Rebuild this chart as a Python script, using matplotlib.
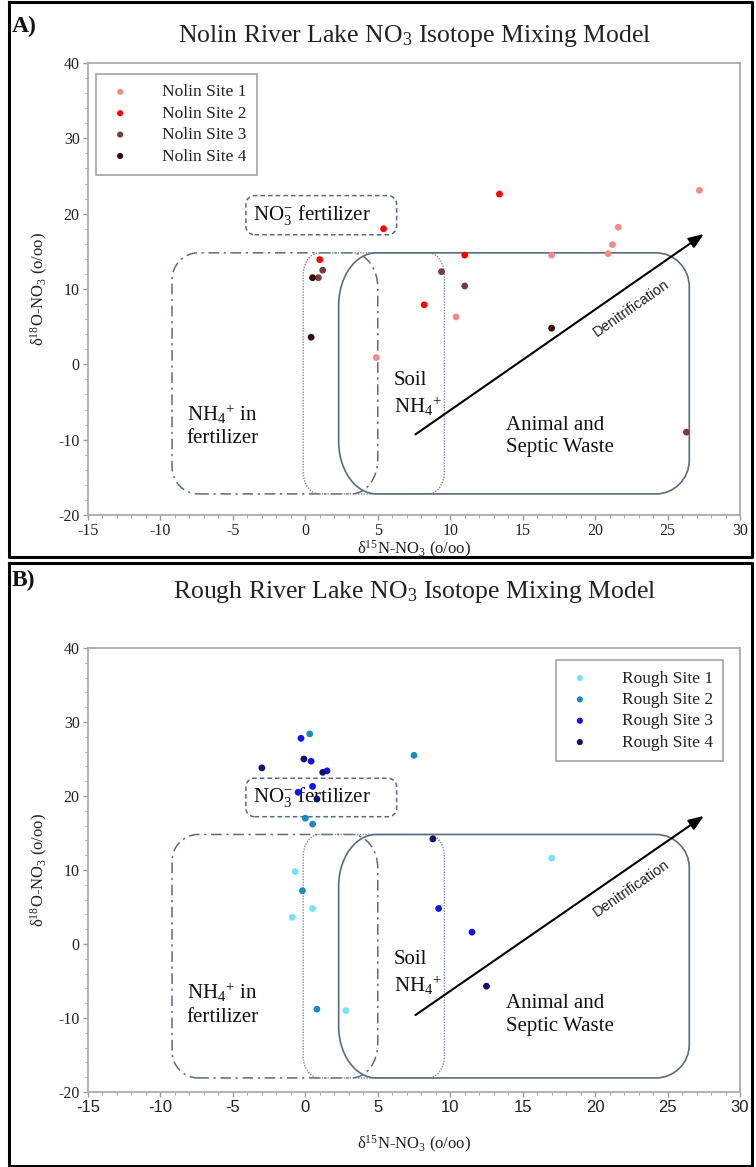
import matplotlib
matplotlib.use("Agg")
import matplotlib.pyplot as plt
from matplotlib.path import Path
from matplotlib.patches import PathPatch
from matplotlib.lines import Line2D
from matplotlib.ticker import MultipleLocator
import numpy as np

plt.rcParams["font.family"] = ["Liberation Serif", "DejaVu Serif"]
plt.rcParams["mathtext.fontset"] = "custom"
plt.rcParams["mathtext.rm"] = "Liberation Serif"
plt.rcParams["mathtext.it"] = "Liberation Serif:italic"
plt.rcParams["mathtext.bf"] = "Liberation Serif:bold"
plt.rcParams["axes.unicode_minus"] = False

# ---------------- data: d15N (x) and d18O (y) of nitrate, per sampling site
nolin_labels = ["Nolin Site 1", "Nolin Site 2", "Nolin Site 3", "Nolin Site 4"]
nolin_colors = ["#F28A8C", "#FF0000", "#7B3B3B", "#3A0A0A"]
nolin_x = [
    [27.2, 21.6, 21.2, 20.9, 17.0, 10.4, 4.9],
    [13.4, 5.4, 11.0, 8.2, 1.0],
    [9.4, 11.0, 1.2, 0.9, 26.3],
    [0.5, 0.4, 17.0],
]
nolin_y = [
    [23.1, 18.2, 15.9, 14.7, 14.5, 6.3, 0.9],
    [22.6, 18.0, 14.5, 7.9, 13.9],
    [12.3, 10.4, 12.5, 11.5, -9.0],
    [11.5, 3.6, 4.8],
]

rough_labels = ["Rough Site 1", "Rough Site 2", "Rough Site 3", "Rough Site 4"]
rough_colors = ["#74E4F2", "#1C88C4", "#1414E8", "#12126E"]
rough_x = [
    [-0.7, 0.5, -0.9, 2.8, 17.0],
    [0.3, 7.5, 0.0, 0.5, -0.2, 0.8],
    [-0.3, 0.4, 1.5, 0.5, -0.5, 9.2, 11.5],
    [-0.1, -3.0, 1.2, 0.8, 8.8, 12.5],
]
rough_y = [
    [9.8, 4.8, 3.6, -9.0, 11.6],
    [28.4, 25.5, 17.0, 16.2, 7.2, -8.8],
    [27.8, 24.7, 23.4, 21.3, 20.5, 4.8, 1.6],
    [25.0, 23.8, 23.2, 19.6, 14.2, -5.7],
]

x_ticks = [-15, -10, -5, 0, 5, 10, 15, 20, 25, 30]
y_ticks = [-20, -10, 0, 10, 20, 30, 40]

FIG_W, FIG_H = 756, 1167
fig = plt.figure(figsize=(FIG_W / 100, FIG_H / 100), dpi=100)


def px_rect(left, top, right, bottom):
    return [left / FIG_W, 1 - bottom / FIG_H, (right - left) / FIG_W, (bottom - top) / FIG_H]


def rounded_path(x0, x1, y0, y1, rxl, ryl, rxr, ryr):
    """Rounded rectangle with elliptical corners (left / right radii may differ)."""
    k = 0.5523
    verts = [
        (x0 + rxl, y0),
        (x1 - rxr, y0),
        (x1 - rxr + k * rxr, y0), (x1, y0 + ryr - k * ryr), (x1, y0 + ryr),
        (x1, y1 - ryr),
        (x1, y1 - ryr + k * ryr), (x1 - rxr + k * rxr, y1), (x1 - rxr, y1),
        (x0 + rxl, y1),
        (x0 + rxl - k * rxl, y1), (x0, y1 - ryl + k * ryl), (x0, y1 - ryl),
        (x0, y0 + ryl),
        (x0, y0 + ryl - k * ryl), (x0 + rxl - k * rxl, y0), (x0 + rxl, y0),
    ]
    codes = [Path.MOVETO, Path.LINETO,
             Path.CURVE4, Path.CURVE4, Path.CURVE4,
             Path.LINETO,
             Path.CURVE4, Path.CURVE4, Path.CURVE4,
             Path.LINETO,
             Path.CURVE4, Path.CURVE4, Path.CURVE4,
             Path.LINETO,
             Path.CURVE4, Path.CURVE4, Path.CURVE4]
    return Path(verts, codes)


def draw_panel(rect, title, letter, letter_y, title_y, xs, ys, colors, labels,
               box_bottom, arrow_y0, legend_kw, xtick_family, xlabel_pad):
    ax = fig.add_axes(rect)
    ax.set_xlim(-15, 30)
    ax.set_ylim(-20, 40)
    ax.set_xticks(x_ticks)
    ax.set_yticks(y_ticks)
    ax.xaxis.set_minor_locator(MultipleLocator(1))
    ax.yaxis.set_minor_locator(MultipleLocator(2))
    for s in ax.spines.values():
        s.set_color("#ABABAB")
        s.set_linewidth(1.3)
    ax.tick_params(which="major", direction="out", length=3.5, width=1.0,
                   color="#9A9A9A", labelsize=11.5, labelcolor="#222222", pad=2.5)
    ax.tick_params(which="minor", direction="out", length=2, width=0.8,
                   color="#AAAAAA")
    ax.tick_params(top=False, right=False, which="both")
    for lab in ax.get_xticklabels():
        lab.set_family(xtick_family)
        if xtick_family != "Liberation Serif":
            lab.set_fontsize(12)
    ax.set_xlabel(r"δ$^{15}$N-NO$_3$ (o/oo)", fontsize=12, color="#222222",
                  labelpad=xlabel_pad)
    ax.set_ylabel(r"δ$^{18}$O-NO$_3$ (o/oo)", fontsize=12, color="#222222", labelpad=6)

    # source regions
    edge = "#5C6B7C"
    ax.add_patch(PathPatch(rounded_path(-9.2, 5.0, box_bottom, 14.8, 1.8, 3.6, 1.8, 4.6),
                           fill=False, ec=edge, lw=1.1, ls=(0, (7, 3, 1.5, 3))))
    ax.add_patch(PathPatch(rounded_path(-0.15, 9.6, box_bottom, 14.8, 1.1, 3.0, 1.1, 3.0),
                           fill=False, ec="#7D8C9C", lw=1.0, ls=(0, (1, 1))))
    ax.add_patch(PathPatch(rounded_path(2.3, 26.5, box_bottom, 14.8, 2.6, 7.0, 2.3, 4.5),
                           fill=False, ec=edge, lw=1.2, ls="-"))
    ax.add_patch(PathPatch(rounded_path(-4.1, 6.3, 17.2, 22.4, 0.6, 1.1, 0.6, 1.1),
                           fill=False, ec=edge, lw=1.1, ls=(0, (3, 2))))

    # denitrification trend
    x_start, y_start = 7.6, arrow_y0
    x_end, y_end = 27.5, 17.3
    ax.annotate("", xy=(x_end, y_end), xytext=(x_start, y_start),
                arrowprops=dict(arrowstyle="-|>,head_length=0.9,head_width=0.35",
                                color="black", lw=1.5, shrinkA=0, shrinkB=0))
    p0 = ax.transData.transform((x_start, y_start))
    p1 = ax.transData.transform((x_end, y_end))
    ang = np.degrees(np.arctan2(p1[1] - p0[1], p1[0] - p0[0]))
    ax.text(22.5, 7.5, "Denitrification", rotation=ang, rotation_mode="anchor",
            ha="center", va="center", fontsize=10.5, family="Liberation Sans",
            color="#222222")

    tk = dict(fontsize=15, color="#111111", va="center", ha="left", linespacing=1.25)
    ax.text(-3.6, 19.8, r"NO$_3^{-}$ fertilizer", **tk)
    ax.text(-8.2, -8.1, "NH$_4$$^{+}$ in\nfertilizer", **tk)
    ax.text(6.1, -4.0, "Soil\nNH$_4$$^{+}$", **tk)
    ax.text(13.85, -9.6, "Animal and\nSeptic Waste", **tk)

    for x, y, c, lab in zip(xs, ys, colors, labels):
        ax.scatter(x, y, s=24, color=c, edgecolors="none", label=lab, zorder=5)

    leg = ax.legend(fontsize=12.5, frameon=True, fancybox=False, borderaxespad=0,
                    handletextpad=1.6, handlelength=1.6, labelspacing=0.3,
                    borderpad=0.6, markerscale=0.9, **legend_kw)
    leg.get_frame().set_edgecolor("#8C8C8C")
    leg.get_frame().set_linewidth(1.2)
    for t in leg.get_texts():
        t.set_color("#222222")

    fig.text(415 / FIG_W, 1 - title_y / FIG_H, title, fontsize=18.5, ha="center",
             va="center", color="#222222")
    fig.text(12 / FIG_W, 1 - letter_y / FIG_H, letter, fontsize=17, ha="left",
             va="center", fontweight="bold", color="#111111")
    return ax


draw_panel(px_rect(88, 63, 740, 515), r"Nolin River Lake NO$_3$ Isotope Mixing Model",
           "A)", 26, 36, nolin_x, nolin_y, nolin_colors, nolin_labels, -17.2, -9.3,
           dict(loc="upper left", bbox_to_anchor=(0.012, 0.976)), "Liberation Serif", 0)
draw_panel(px_rect(88, 648, 740, 1092), r"Rough River Lake NO$_3$ Isotope Mixing Model",
           "B)", 580, 592, rough_x, rough_y, rough_colors, rough_labels, -18.1, -9.6,
           dict(loc="upper right", bbox_to_anchor=(0.974, 0.973)), "Liberation Sans", 13)

# panel frames
for (t, b) in [(1.5, 557), (563, 1166)]:
    xs_ = [9 / FIG_W, 752 / FIG_W, 752 / FIG_W, 9 / FIG_W, 9 / FIG_W]
    ys_ = [1 - t / FIG_H, 1 - t / FIG_H, 1 - b / FIG_H, 1 - b / FIG_H, 1 - t / FIG_H]
    fig.add_artist(Line2D(xs_, ys_, color="black", lw=2.2, transform=fig.transFigure))

fig.savefig("out.png", dpi=100)
